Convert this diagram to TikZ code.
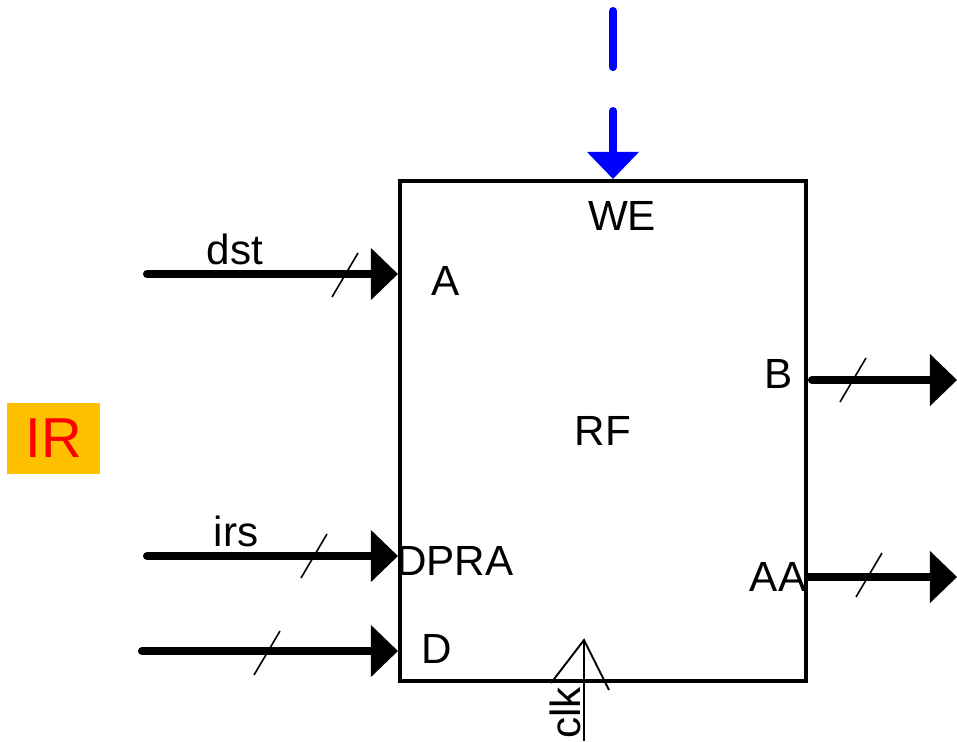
\documentclass[tikz,border=0pt]{standalone}
\usepackage{fontspec}
\setmainfont{Liberation Sans}
\usetikzlibrary{positioning, arrows.meta, calc}
\definecolor{irorange}{HTML}{FFC000}
\definecolor{irred}{HTML}{FF0000}
\definecolor{weblue}{HTML}{0000FF}
\tikzset{
  bus/.style={line width=2.3pt, line cap=round, -{Triangle[length=0.27cm, width=0.52cm, line width=0pt]}},
  slash/.style={line width=0.45pt},
  lbl/.style={font=\fontsize{12}{14}\selectfont, inner sep=0pt},
}
\begin{document}
\begin{tikzpicture}[x=0.01cm, y=-0.01cm]
  \useasboundingbox (0,0) rectangle (957,741);
  % register file
  \node[draw, line width=1.1pt, minimum width=4.06cm, minimum height=5cm, lbl] (rf) at (603,431) {RF};
  \node[lbl] (pwe) at (622,216) {WE};
  \node[lbl] (pa) at (446,281) {A};
  \node[lbl] (pdpra) at (455,561) {DPRA};
  \node[lbl] (pd) at (437,649) {D};
  \node[lbl] (pb) at (779,374) {B};
  \node[lbl] (paa) at (778,577) {AA};
  % IR
  \node[fill=irorange, minimum width=0.93cm, minimum height=0.71cm, inner sep=0pt, text=irred, font=\fontsize{16}{18}\selectfont] (ir) at (53.5,438.5) {IR};
  % inputs
  \coordinate (dstin) at (147,274);
  \coordinate (irsin) at (147,556);
  \coordinate (din) at (142,651);
  \draw[bus] (dstin) -- (rf.west |- dstin);
  \draw[bus] (irsin) -- (rf.west |- irsin);
  \draw[bus] (din) -- (rf.west |- din);
  \node[lbl] (dst) at (235,249) {dst};
  \node[lbl] (irs) at (236,531) {irs};
  % outputs
  \coordinate (bstart) at (812,380);
  \coordinate (bout) at (957,380);
  \coordinate (aaout) at (957,577);
  \draw[bus] (bstart) -- (bout);
  \draw[bus] (rf.east |- aaout) -- (aaout);
  % bus width marks
  \foreach \x/\y in {345/275, 314/556, 267/653, 853/380, 869/575}
    \draw[slash] (\x-13,\y+22) -- (\x+13,\y-22);
  % write enable
  \coordinate (wetop) at (613,11);
  \draw[bus, weblue, dash pattern=on 0.56cm off 0.44cm] (wetop) -- (rf.north -| wetop);
  % clock
  \coordinate (clktop) at (584,640);
  \coordinate (clkbot) at (584,741);
  \draw[line width=0.55pt] (clktop) -- (clkbot);
  \draw[line width=0.55pt] (551,683) -- (clktop) -- (609,690);
  \node[lbl, rotate=90] (clk) at (565,713) {clk};
\end{tikzpicture}
\end{document}
